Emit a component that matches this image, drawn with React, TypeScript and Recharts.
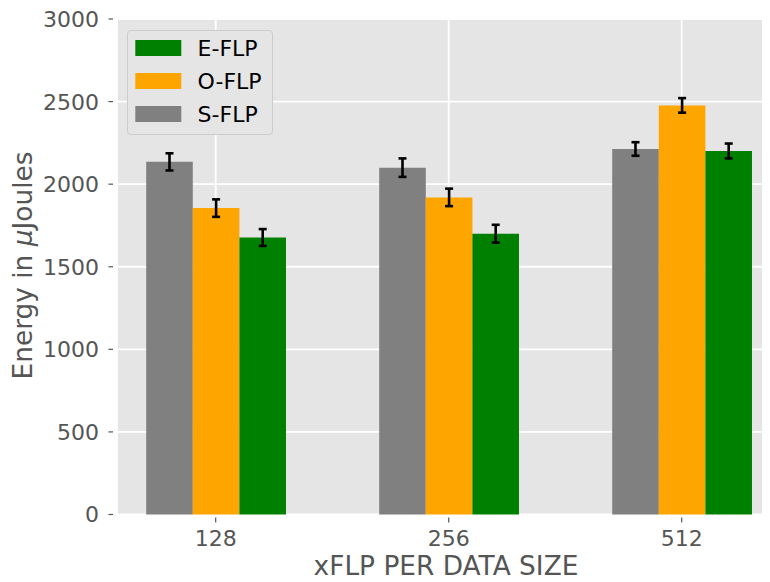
import React from 'react';
import { BarChart, Bar, XAxis, YAxis, CartesianGrid, ErrorBar, Label } from 'recharts';

const categories = ['128', '256', '512'];
const positions = [0, 1, 2];
const sFlp = [2135, 2100, 2213];
const oFlp = [1855, 1920, 2477];
const eFlp = [1677, 1700, 2201];
const sErr = [52, 56, 41];
const oErr = [53, 53, 44];
const eErr = [51, 54, 45];
const yTicks = [0, 500, 1000, 1500, 2000, 2500, 3000];

const legendItems = [
  { name: 'E-FLP', color: '#008000' },
  { name: 'O-FLP', color: '#FFA500' },
  { name: 'S-FLP', color: '#808080' },
];

const data = positions.map((p, i) => ({
  pos: p,
  cat: categories[i],
  S: sFlp[i],
  O: oFlp[i],
  E: eFlp[i],
  sErr: sErr[i],
  oErr: oErr[i],
  eErr: eErr[i],
}));

const FONT = '"DejaVu Sans", sans-serif';
const TICK_COLOR = '#555555';
const TICK_FS = 22;
const LABEL_FS = 26.4;

const YTick = (props: any) => {
  const { x, y, payload } = props;
  return (
    <g>
      <line x1={x - 8.5} x2={x - 4} y1={y} y2={y} stroke={TICK_COLOR} strokeWidth={1.2} />
      <text x={x - 18} y={y} dy="0.36em" textAnchor="end" fill={TICK_COLOR} fontSize={TICK_FS} fontFamily={FONT}>
        {payload.value}
      </text>
    </g>
  );
};

const XTick = (props: any) => {
  const { x, y, payload } = props;
  return (
    <g>
      <line x1={x} x2={x} y1={y + 3} y2={y + 8} stroke={TICK_COLOR} strokeWidth={1.2} />
      <text x={x} y={y + 31} textAnchor="middle" fill={TICK_COLOR} fontSize={TICK_FS} fontFamily={FONT}>
        {categories[payload.value]}
      </text>
    </g>
  );
};

const XLabel = () => (
  <text x={438} y={566.5} textAnchor="middle" fill={TICK_COLOR} fontSize={LABEL_FS} fontFamily={FONT}>
    xFLP PER DATA SIZE
  </text>
);

const YLabel = () => (
  <text
    x={24}
    y={257.5}
    transform="rotate(-90 24 257.5)"
    textAnchor="middle"
    fill={TICK_COLOR}
    fontSize={LABEL_FS}
    fontFamily={FONT}
  >
    Energy in <tspan fontStyle="italic">μ</tspan>Joules
  </text>
);

export default function App() {
  return (
    <div style={{ position: 'relative', width: 762, height: 574, fontFamily: FONT }}>
      <BarChart
        width={762}
        height={574}
        data={data}
        margin={{ top: 11, right: 0, left: 0, bottom: 0 }}
        barGap={0}
      >
        <CartesianGrid fill="#E5E5E5" stroke="#FFFFFF" strokeWidth={1.8} />
        <XAxis
          dataKey="pos"
          type="number"
          domain={[-0.4236, 2.379]}
          ticks={positions}
          allowDataOverflow
          axisLine={false}
          tickLine={false}
          tickSize={0}
          tickMargin={0}
          height={67.5}
          tick={<XTick />}
          interval={0}
        >
          <Label content={<XLabel />} />
        </XAxis>
        <YAxis
          type="number"
          domain={[0, 3000]}
          ticks={yTicks}
          axisLine={false}
          tickLine={false}
          tickSize={0}
          tickMargin={0}
          width={109}
          tick={<YTick />}
          interval={0}
        >
          <Label content={<YLabel />} />
        </YAxis>
        <Bar dataKey="S" name="S-FLP" fill="#808080" barSize={46.6} isAnimationActive={false}>
          <ErrorBar dataKey="sErr" width={4} stroke="#000000" strokeWidth={2.6} />
        </Bar>
        <Bar dataKey="O" name="O-FLP" fill="#FFA500" barSize={46.6} isAnimationActive={false}>
          <ErrorBar dataKey="oErr" width={4} stroke="#000000" strokeWidth={2.6} />
        </Bar>
        <Bar dataKey="E" name="E-FLP" fill="#008000" barSize={46.6} isAnimationActive={false}>
          <ErrorBar dataKey="eErr" width={4} stroke="#000000" strokeWidth={2.6} />
        </Bar>
      </BarChart>
      <div
        style={{
          position: 'absolute',
          left: 118.7,
          top: 22,
          width: 146,
          height: 105,
          boxSizing: 'border-box',
          background: '#E5E5E5',
          border: '1px solid #CCCCCC',
          borderRadius: 4,
        }}
      >
        <svg width={146} height={105} style={{ position: 'absolute', left: -1, top: -1 }}>
          {legendItems.map((item, i) => {
            const cy = 18 + i * 33;
            return (
              <g key={item.name}>
                <rect x={8.3} y={cy - 8} width={46} height={16} fill={item.color} />
                <text x={70.6} y={cy} dy="0.36em" fontSize={TICK_FS} fontFamily={FONT} fill="#000000">
                  {item.name}
                </text>
              </g>
            );
          })}
        </svg>
      </div>
    </div>
  );
}
